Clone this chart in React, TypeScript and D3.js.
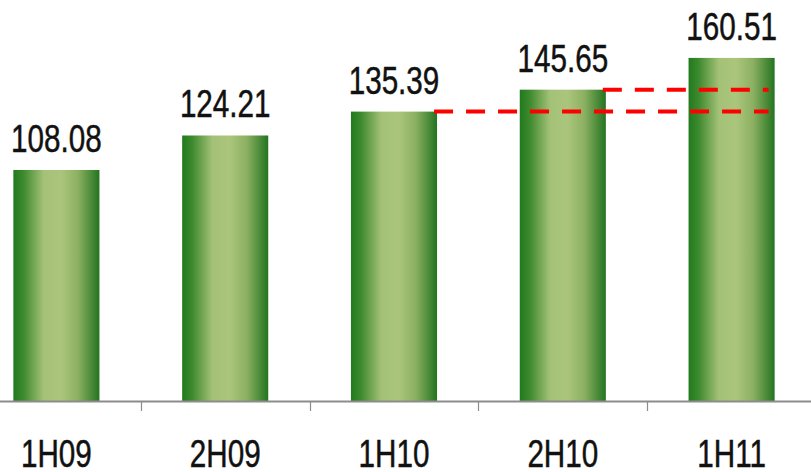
import React, { useEffect, useRef } from 'react';
import * as d3 from 'd3';

const categories = ['1H09', '2H09', '1H10', '2H10', '1H11'];
const values = [108.08, 124.21, 135.39, 145.65, 160.51];
const labels = ['108.08', '124.21', '135.39', '145.65', '160.51'];
// reference lines: from the top of a bar across to the last bar
const refFrom = ['1H10', '2H10'];

const W = 811;
const H = 472;
const FONT = '"Liberation Sans", Arial, sans-serif';
const SQUEEZE = 0.78;

const App: React.FC = () => {
  const svgRef = useRef<SVGSVGElement>(null);

  useEffect(() => {
    document.body.style.margin = '0';
    if (!svgRef.current) return;
    const svg = d3.select(svgRef.current);
    svg.selectAll('*').remove();

    const baseY = 401;
    const x = d3.scaleBand().domain(categories).range([-28, 816]).padding(0);
    const barW = x.bandwidth() * 0.51;
    const y = d3.scaleLinear().domain([0, 187.6]).range([baseY, 0]);

    const defs = svg.append('defs');
    const grad = defs.append('linearGradient').attr('id', 'barGrad')
      .attr('x1', '0%').attr('x2', '100%').attr('y1', '0%').attr('y2', '0%');
    [
      [0, '#217a1e'],
      [0.12, '#3f8a2e'],
      [0.35, '#a3c177'],
      [0.55, '#abc67c'],
      [0.75, '#8cb062'],
      [1, '#237420'],
    ].forEach(([o, c]) => grad.append('stop').attr('offset', o as number).attr('stop-color', c as string));

    const bx = (c: string) => x(c)! + (x.bandwidth() - barW) / 2;
    const cx = (c: string) => x(c)! + x.bandwidth() / 2;

    svg.append('g').selectAll('rect')
      .data(categories)
      .join('rect')
      .attr('x', d => bx(d))
      .attr('y', (d, i) => y(values[i]))
      .attr('width', barW)
      .attr('height', (d, i) => baseY - y(values[i]))
      .attr('fill', 'url(#barGrad)');

    // value labels
    svg.append('g').selectAll('text')
      .data(categories)
      .join('text')
      .attr('transform', (d, i) => `translate(${cx(d)},${y(values[i]) - 18}) scale(${SQUEEZE},1)`)
      .attr('text-anchor', 'middle')
      .attr('font-family', FONT)
      .attr('font-size', 38)
      .attr('fill', '#111')
      .attr('stroke', '#111')
      .attr('stroke-width', 0.5)
      .text((d, i) => labels[i]);

    // axis
    const axis = svg.append('g');
    axis.append('line')
      .attr('x1', 0).attr('x2', W)
      .attr('y1', baseY + 0.5).attr('y2', baseY + 0.5)
      .attr('stroke', '#8c8c8c').attr('stroke-width', 2);
    axis.selectAll('line.tick')
      .data(categories.slice(1))
      .join('line')
      .attr('class', 'tick')
      .attr('x1', d => Math.round(x(d)!) + 0.5)
      .attr('x2', d => Math.round(x(d)!) + 0.5)
      .attr('y1', baseY).attr('y2', baseY + 10)
      .attr('stroke', '#8c8c8c').attr('stroke-width', 1.2);
    axis.selectAll('text')
      .data(categories)
      .join('text')
      .attr('transform', d => `translate(${cx(d)},467) scale(${SQUEEZE},1)`)
      .attr('text-anchor', 'middle')
      .attr('font-family', FONT)
      .attr('font-size', 38)
      .attr('fill', '#111')
      .attr('stroke', '#111')
      .attr('stroke-width', 0.5)
      .text(d => d);

    // red dashed reference lines
    const endX = bx(categories[categories.length - 1]) + barW - 6;
    svg.append('g').selectAll('line')
      .data(refFrom)
      .join('line')
      .attr('x1', d => bx(d) + barW - 3)
      .attr('x2', endX)
      .attr('y1', d => y(values[categories.indexOf(d)]))
      .attr('y2', d => y(values[categories.indexOf(d)]))
      .attr('stroke', '#ff0000')
      .attr('stroke-width', 4)
      .attr('stroke-dasharray', '19 13');
  }, []);

  return (
    <svg ref={svgRef} width={W} height={H} style={{ display: 'block', background: '#fff' }} />
  );
};

export default App;
